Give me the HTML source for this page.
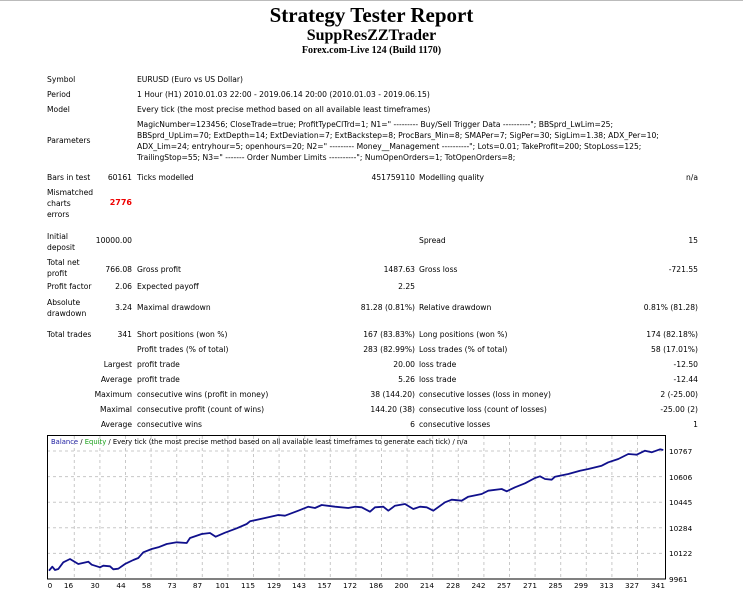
<!DOCTYPE html>
<html><head><meta charset="utf-8"><style>
body{margin:0;width:743px;height:595px;background:#fff;position:relative;overflow:hidden;font-family:"DejaVu Sans","Liberation Sans",sans-serif;}
.t{position:absolute;font-size:7.6px;color:#000;white-space:nowrap;line-height:10px;}
.r{text-align:right;}
.h{position:absolute;left:0;width:743px;text-align:center;font-family:"Liberation Serif",serif;font-weight:bold;color:#000;}
</style></head><body>
<div style="position:absolute;left:0;top:0;width:743px;height:1px;background:#bbb"></div>
<div class="h" style="top:3px;font-size:21px;">Strategy Tester Report</div>
<div class="h" style="top:27px;font-size:16px;">SuppResZZTrader</div>
<div class="h" style="top:45px;font-size:10px;">Forex.com-Live 124 (Build 1170)</div>

<div class="t" style="left:47px;top:75px">Symbol</div>
<div class="t" style="left:137px;top:75px">EURUSD (Euro vs US Dollar)</div>
<div class="t" style="left:47px;top:90px">Period</div>
<div class="t" style="left:137px;top:90px">1 Hour (H1) 2010.01.03 22:00 - 2019.06.14 20:00 (2010.01.03 - 2019.06.15)</div>
<div class="t" style="left:47px;top:105px">Model</div>
<div class="t" style="left:137px;top:105px">Every tick (the most precise method based on all available least timeframes)</div>
<div class="t" style="left:47px;top:136px">Parameters</div>
<div class="t" style="left:137px;top:120px">MagicNumber=123456; CloseTrade=true; ProfitTypeClTrd=1; N1=" --------- Buy/Sell Trigger Data ----------"; BBSprd_LwLim=25;</div>
<div class="t" style="left:137px;top:131px">BBSprd_UpLim=70; ExtDepth=14; ExtDeviation=7; ExtBackstep=8; ProcBars_Min=8; SMAPer=7; SigPer=30; SigLim=1.38; ADX_Per=10;</div>
<div class="t" style="left:137px;top:142px">ADX_Lim=24; entryhour=5; openhours=20; N2=" --------- Money__Management ----------"; Lots=0.01; TakeProfit=200; StopLoss=125;</div>
<div class="t" style="left:137px;top:153px">TrailingStop=55; N3=" ------- Order Number Limits ----------"; NumOpenOrders=1; TotOpenOrders=8;</div>

<div class="t" style="left:47px;top:173px">Bars in test</div>
<div class="t r" style="left:80px;width:52px;top:173px">60161</div>
<div class="t" style="left:137px;top:173px">Ticks modelled</div>
<div class="t r" style="left:300px;width:115px;top:173px">451759110</div>
<div class="t" style="left:419px;top:173px">Modelling quality</div>
<div class="t r" style="left:600px;width:98px;top:173px">n/a</div>

<div class="t" style="left:47px;top:187px;line-height:11px">Mismatched<br>charts<br>errors</div>
<div class="t r" style="left:80px;width:52px;top:198px;color:#e00;font-weight:bold;font-size:8px">2776</div>

<div class="t" style="left:47px;top:231px;line-height:11px">Initial<br>deposit</div>
<div class="t r" style="left:80px;width:52px;top:236px">10000.00</div>
<div class="t" style="left:419px;top:236px">Spread</div>
<div class="t r" style="left:600px;width:98px;top:236px">15</div>

<div class="t" style="left:47px;top:257px;line-height:11px">Total net<br>profit</div>
<div class="t r" style="left:80px;width:52px;top:265px">766.08</div>
<div class="t" style="left:137px;top:265px">Gross profit</div>
<div class="t r" style="left:300px;width:115px;top:265px">1487.63</div>
<div class="t" style="left:419px;top:265px">Gross loss</div>
<div class="t r" style="left:600px;width:98px;top:265px">-721.55</div>

<div class="t" style="left:47px;top:282px">Profit factor</div>
<div class="t r" style="left:80px;width:52px;top:282px">2.06</div>
<div class="t" style="left:137px;top:282px">Expected payoff</div>
<div class="t r" style="left:300px;width:115px;top:282px">2.25</div>

<div class="t" style="left:47px;top:297px;line-height:11px">Absolute<br>drawdown</div>
<div class="t r" style="left:80px;width:52px;top:303px">3.24</div>
<div class="t" style="left:137px;top:303px">Maximal drawdown</div>
<div class="t r" style="left:300px;width:115px;top:303px">81.28 (0.81%)</div>
<div class="t" style="left:419px;top:303px">Relative drawdown</div>
<div class="t r" style="left:600px;width:98px;top:303px">0.81% (81.28)</div>

<div class="t" style="left:47px;top:330px">Total trades</div>
<div class="t r" style="left:80px;width:52px;top:330px">341</div>
<div class="t" style="left:137px;top:330px">Short positions (won %)</div>
<div class="t r" style="left:300px;width:115px;top:330px">167 (83.83%)</div>
<div class="t" style="left:419px;top:330px">Long positions (won %)</div>
<div class="t r" style="left:600px;width:98px;top:330px">174 (82.18%)</div>

<div class="t" style="left:137px;top:345px">Profit trades (% of total)</div>
<div class="t r" style="left:300px;width:115px;top:345px">283 (82.99%)</div>
<div class="t" style="left:419px;top:345px">Loss trades (% of total)</div>
<div class="t r" style="left:600px;width:98px;top:345px">58 (17.01%)</div>

<div class="t r" style="left:60px;width:72px;top:360px">Largest</div>
<div class="t" style="left:137px;top:360px">profit trade</div>
<div class="t r" style="left:300px;width:115px;top:360px">20.00</div>
<div class="t" style="left:419px;top:360px">loss trade</div>
<div class="t r" style="left:600px;width:98px;top:360px">-12.50</div>

<div class="t r" style="left:60px;width:72px;top:375px">Average</div>
<div class="t" style="left:137px;top:375px">profit trade</div>
<div class="t r" style="left:300px;width:115px;top:375px">5.26</div>
<div class="t" style="left:419px;top:375px">loss trade</div>
<div class="t r" style="left:600px;width:98px;top:375px">-12.44</div>

<div class="t r" style="left:60px;width:72px;top:390px">Maximum</div>
<div class="t" style="left:137px;top:390px">consecutive wins (profit in money)</div>
<div class="t r" style="left:300px;width:115px;top:390px">38 (144.20)</div>
<div class="t" style="left:419px;top:390px">consecutive losses (loss in money)</div>
<div class="t r" style="left:600px;width:98px;top:390px">2 (-25.00)</div>

<div class="t r" style="left:60px;width:72px;top:405px">Maximal</div>
<div class="t" style="left:137px;top:405px">consecutive profit (count of wins)</div>
<div class="t r" style="left:300px;width:115px;top:405px">144.20 (38)</div>
<div class="t" style="left:419px;top:405px">consecutive loss (count of losses)</div>
<div class="t r" style="left:600px;width:98px;top:405px">-25.00 (2)</div>

<div class="t r" style="left:60px;width:72px;top:420px">Average</div>
<div class="t" style="left:137px;top:420px">consecutive wins</div>
<div class="t r" style="left:300px;width:115px;top:420px">6</div>
<div class="t" style="left:419px;top:420px">consecutive losses</div>
<div class="t r" style="left:600px;width:98px;top:420px">1</div>

<svg style="position:absolute;left:0;top:0" width="743" height="595" viewBox="0 0 743 595">
<g stroke="#c8c8c8" stroke-width="1" stroke-dasharray="3,3" fill="none">
<line x1="47" y1="451" x2="665" y2="451"/><line x1="47" y1="476.6" x2="665" y2="476.6"/>
<line x1="47" y1="502.2" x2="665" y2="502.2"/><line x1="47" y1="527.8" x2="665" y2="527.8"/>
<line x1="47" y1="553.4" x2="665" y2="553.4"/>
<line x1="74.3" y1="436" x2="74.3" y2="579"/><line x1="99.9" y1="436" x2="99.9" y2="579"/><line x1="125.5" y1="436" x2="125.5" y2="579"/><line x1="151.1" y1="436" x2="151.1" y2="579"/><line x1="176.7" y1="436" x2="176.7" y2="579"/><line x1="202.3" y1="436" x2="202.3" y2="579"/><line x1="227.9" y1="436" x2="227.9" y2="579"/><line x1="253.5" y1="436" x2="253.5" y2="579"/><line x1="279.1" y1="436" x2="279.1" y2="579"/><line x1="304.7" y1="436" x2="304.7" y2="579"/><line x1="330.3" y1="436" x2="330.3" y2="579"/><line x1="355.9" y1="436" x2="355.9" y2="579"/><line x1="381.5" y1="436" x2="381.5" y2="579"/><line x1="407.1" y1="436" x2="407.1" y2="579"/><line x1="432.7" y1="436" x2="432.7" y2="579"/><line x1="458.3" y1="436" x2="458.3" y2="579"/><line x1="483.9" y1="436" x2="483.9" y2="579"/><line x1="509.5" y1="436" x2="509.5" y2="579"/><line x1="535.1" y1="436" x2="535.1" y2="579"/><line x1="560.7" y1="436" x2="560.7" y2="579"/><line x1="586.3" y1="436" x2="586.3" y2="579"/><line x1="611.9" y1="436" x2="611.9" y2="579"/><line x1="637.5" y1="436" x2="637.5" y2="579"/>
</g>
<rect x="47.5" y="435.5" width="618" height="143.5" fill="none" stroke="#000" stroke-width="1"/>
<polyline fill="none" stroke="#10108c" stroke-width="1.8" stroke-linejoin="round" points="49,570.7 52.3,566.7 55,570 58.3,569 63.3,562.3 70,559 78.3,564 88.3,561.7 91.7,564.7 100,567.3 103.3,565.7 110,566.3 113.3,569.3 118.3,568.7 125,564 133.3,560 138.3,558 143.3,552.3 151.7,549 158.3,547.3 166.7,544 176.7,542.3 186.7,543 190,538 201.7,534 210,533 215.7,536.7 225,532.7 236.7,528.3 246.7,524 250,521.3 265,518 278.3,515 285,515.7 298.3,510.7 308.3,506.7 315,508 321.7,505 335,506.7 348.3,508 355,506.7 361.7,507.3 370,511.7 375,507.3 383.3,506.7 388.3,510.7 395,505.7 405,504 413.3,509 420,506.7 426.7,507.3 433.3,510.7 445,502.3 451.7,499.7 461.7,500.7 468.3,496.7 481.7,494 488.3,490.7 501.7,489 506.7,491.3 515,487.3 525,483.3 535,478 540,476.3 545,479 551.7,479.7 555,476.7 568.3,474 580,470.7 588.3,469 601.7,465.7 608.3,462.3 618.3,459 628.3,454 636.7,454.7 645,450.7 651.7,452.3 660,449.3 663.3,450"/>
<g font-family="DejaVu Sans, Liberation Sans, sans-serif" font-size="7.3" fill="#000">
<text x="669" y="454">10767</text><text x="669" y="480">10606</text><text x="669" y="505">10445</text><text x="669" y="531">10284</text><text x="669" y="556">10122</text><text x="669" y="582">9961</text>
<g text-anchor="middle">
<text x="50" y="588">0</text><text x="68.5" y="588">16</text><text x="95" y="588">30</text><text x="121" y="588">44</text><text x="146.5" y="588">58</text><text x="172" y="588">73</text><text x="197.5" y="588">87</text><text x="222.5" y="588">101</text><text x="248" y="588">115</text><text x="274" y="588">129</text><text x="299" y="588">143</text><text x="324.5" y="588">157</text><text x="350" y="588">172</text><text x="376" y="588">186</text><text x="401.5" y="588">200</text><text x="427" y="588">214</text><text x="453" y="588">228</text><text x="478.5" y="588">242</text><text x="504" y="588">257</text><text x="530" y="588">271</text><text x="555.5" y="588">285</text><text x="581" y="588">299</text><text x="606.5" y="588">313</text><text x="632" y="588">327</text><text x="658" y="588">341</text>
</g>
<text x="51" y="444" font-size="6.8"><tspan fill="#1a1aa0">Balance</tspan> / <tspan fill="#1aa01a">Equity</tspan> / Every tick (the most precise method based on all available least timeframes to generate each tick) / n/a</text>
</g>
</svg>
</body></html>
